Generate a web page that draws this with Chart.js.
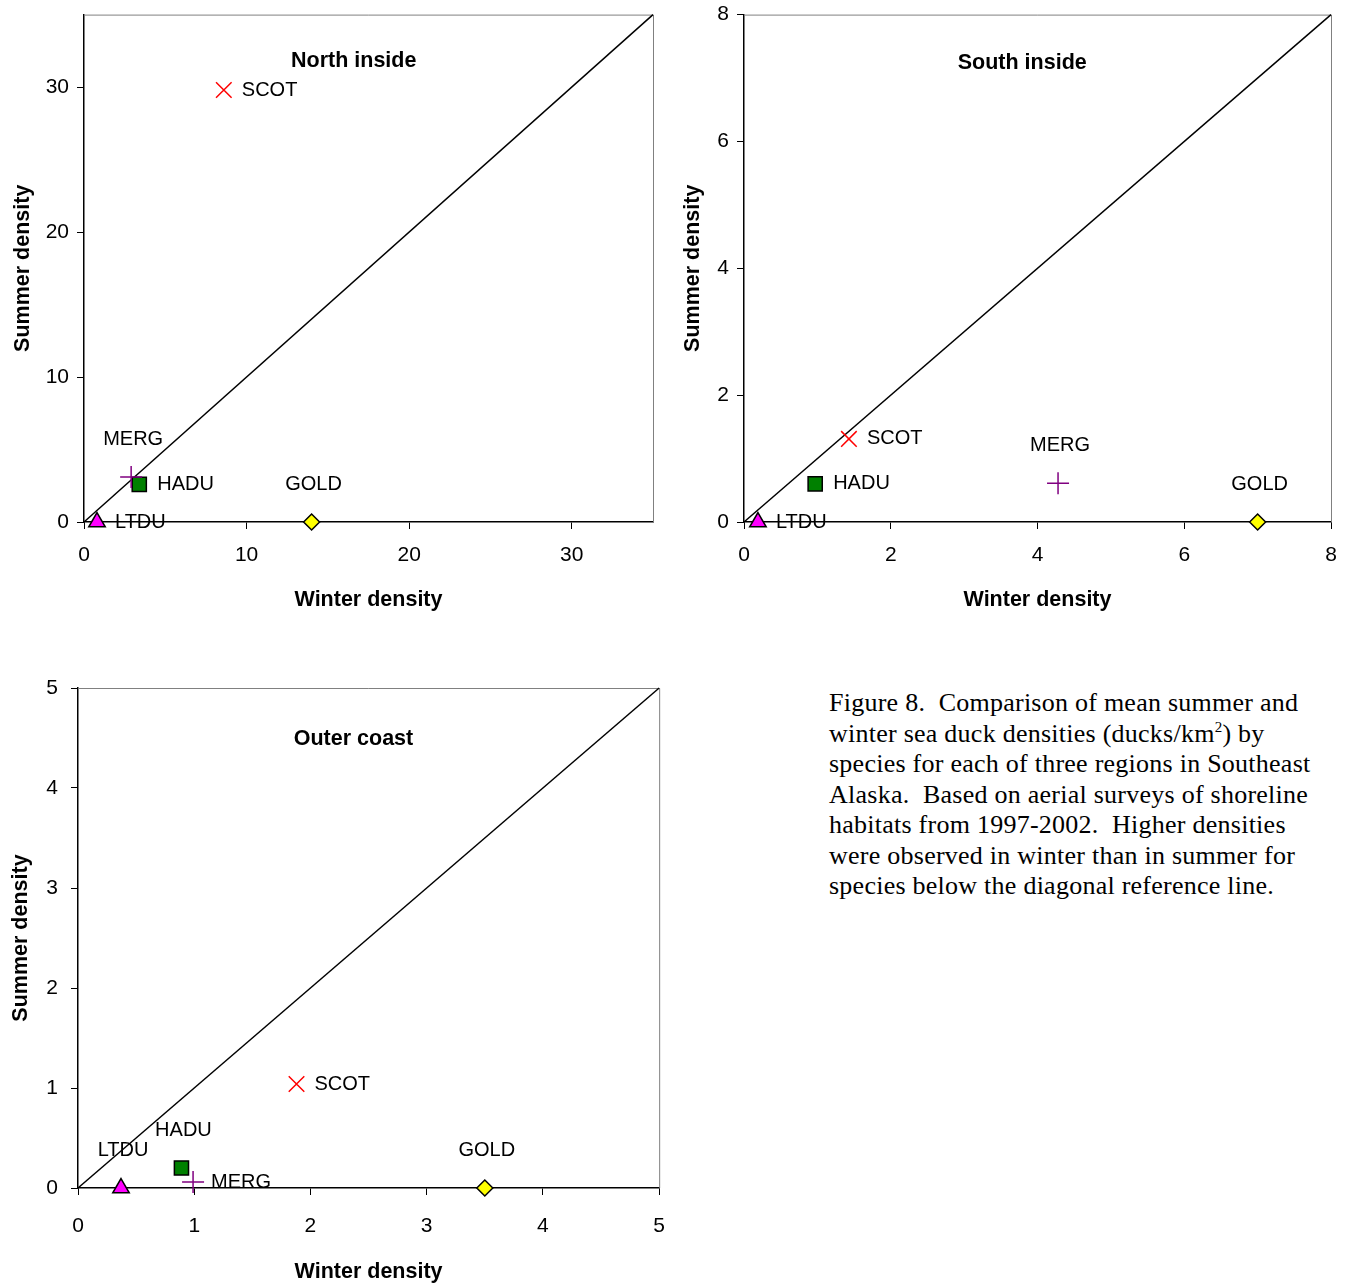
<!DOCTYPE html>
<html>
<head>
<meta charset="utf-8">
<script src="https://cdn.jsdelivr.net/npm/chart.js@4.4.0/dist/chart.umd.min.js"></script>
<style>
  body { margin: 0; background: #fff; width: 1346px; height: 1287px; position: relative; overflow: hidden; }
  canvas { position: absolute; }
  #caption {
    position: absolute; left: 829px; top: 688px; width: 510px;
    font-family: "Liberation Serif", "Times New Roman", serif; font-size: 26px; letter-spacing: 0.25px;
    line-height: 30.5px; color: #000; white-space: nowrap;
  }
  #caption sup { font-size: 15px; line-height: 0; vertical-align: 10px; }
</style>
</head>
<body>
<canvas id="north" width="680" height="626" style="left:0;top:-6px"></canvas>
<canvas id="south" width="671" height="626" style="left:680px;top:-6px"></canvas>
<canvas id="outer" width="684" height="647" style="left:0;top:640px"></canvas>
<div id="caption">
Figure 8.&nbsp; Comparison of mean summer and<br>
winter sea duck densities (ducks/km<sup>2</sup>) by<br>
species for each of three regions in Southeast<br>
Alaska.&nbsp; Based on aerial surveys of shoreline<br>
habitats from 1997-2002.&nbsp; Higher densities<br>
were observed in winter than in summer for<br>
species below the diagonal reference line.
</div>
<script>
// data (ducks/km2)
const species = ["SCOT", "MERG", "HADU", "GOLD", "LTDU"];

const northWinter = [8.6, 2.9, 3.4, 14.0, 0.8];
const northSummer = [29.8, 3.1, 2.6, 0, 0];
const northTicks = [0, 10, 20, 30];
const northMax = 35;

const southWinter = [1.43, 4.28, 0.97, 7.0, 0.19];
const southSummer = [1.31, 0.61, 0.6, 0, 0];
const southTicks = [0, 2, 4, 6, 8];
const southMax = 8;

const outerWinter = [1.88, 0.99, 0.89, 3.5, 0.37];
const outerSummer = [1.04, 0.06, 0.2, 0, 0];
const outerTicks = [0, 1, 2, 3, 4, 5];
const outerMax = 5;

// marker look per species
const markers = {
  SCOT: { pointStyle: "crossRot", radius: 11, bg: "#ff0000", border: "#ff0000" },
  MERG: { pointStyle: "cross", radius: 11, bg: "#800080", border: "#800080" },
  HADU: { pointStyle: "rect", radius: 10, bg: "#008000", border: "#000000" },
  GOLD: { pointStyle: "rectRot", radius: 8, bg: "#ffff00", border: "#000000" },
  LTDU: { pointStyle: "triangle", radius: 9.5, bg: "#ff00ff", border: "#000000" }
};

const labelFont = '20px "Liberation Sans", Arial, sans-serif';
const boldFont = { family: '"Liberation Sans", Arial, sans-serif', size: 21.5, weight: "bold" };
const tickFont = { family: '"Liberation Sans", Arial, sans-serif', size: 21 };

// frame + region name + point labels
const extras = {
  id: "extras",
  beforeDatasetsDraw(chart) {
    const { ctx, chartArea: a } = chart;
    ctx.save();
    ctx.strokeStyle = "#808080";
    ctx.lineWidth = 1;
    ctx.beginPath();
    ctx.moveTo(a.left, a.top + 0.5);
    ctx.lineTo(a.right + 0.5, a.top + 0.5);
    ctx.lineTo(a.right + 0.5, a.bottom);
    ctx.stroke();
    ctx.restore();
  },
  afterDatasetsDraw(chart) {
    const { ctx, chartArea: a } = chart;
    const opts = chart.options.plugins.extras;
    ctx.save();
    ctx.fillStyle = "#000";
    ctx.font = "bold 21.5px \"Liberation Sans\", Arial, sans-serif";
    ctx.textAlign = "center";
    ctx.textBaseline = "middle";
    ctx.fillText(opts.region, a.left + (a.right - a.left) * 0.474, a.top + opts.regionDrop);

    ctx.font = labelFont;
    chart.data.datasets.forEach((ds, i) => {
      if (!ds.speciesName) return;
      const pt = chart.getDatasetMeta(i).data[0];
      const where = opts.placement[ds.speciesName];
      if (where === "above") {
        ctx.textAlign = "center";
        ctx.fillText(ds.speciesName, pt.x + 2, pt.y - 38);
      } else {
        ctx.textAlign = "left";
        ctx.fillText(ds.speciesName, pt.x + 18, pt.y);
      }
    });
    ctx.restore();
  }
};

function makeChart(id, winter, summer, ticks, max, region, placement, box) {
  const datasets = species.map((name, i) => {
    const m = markers[name];
    return {
      speciesName: name,
      data: [{ x: winter[i], y: summer[i] }],
      pointStyle: m.pointStyle,
      pointRadius: m.radius,
      pointBackgroundColor: m.bg,
      pointBorderColor: m.border,
      pointBorderWidth: 1.5,
      clip: false
    };
  });
  // 1:1 reference line
  datasets.push({
    data: [{ x: 0, y: 0 }, { x: max, y: max }],
    showLine: true,
    borderColor: "#000",
    borderWidth: 1.5,
    pointRadius: 0,
    clip: false
  });

  const axis = (title, titlePad, size, tickPad, isY) => ({
    type: "linear",
    min: 0,
    max: max,
    afterBuildTicks: s => { s.ticks = ticks.map(v => ({ value: v })); },
    afterFit: s => { if (isY) s.width = size; else s.height = size; },
    grid: { drawOnChartArea: false, drawTicks: true, tickLength: 7, color: "#000" },
    border: { display: true, color: "#000", width: 1.5 },
    ticks: { font: tickFont, color: "#000", padding: tickPad },
    title: { display: true, text: title, font: boldFont, color: "#000", padding: { top: titlePad, bottom: titlePad } }
  });

  return new Chart(document.getElementById(id), {
    type: "scatter",
    data: { datasets },
    plugins: [extras],
    options: {
      responsive: false,
      animation: false,
      events: [],
      layout: { padding: box.padding },
      plugins: {
        legend: { display: false },
        tooltip: { enabled: false },
        extras: { region, placement, regionDrop: box.regionDrop }
      },
      scales: {
        x: axis("Winter density", box.xTitlePad, box.xHeight, box.xTickPad, false),
        y: axis("Summer density", box.yTitlePad, box.yWidth, box.yTickPad, true)
      }
    }
  });
}

makeChart("north", northWinter, northSummer, northTicks, northMax, "North inside",
  { SCOT: "right", MERG: "above", HADU: "right", GOLD: "above", LTDU: "right" },
  { padding: { top: 20, right: 27, left: 0, bottom: 0 }, yWidth: 84, xHeight: 98,
    yTitlePad: 10, xTitlePad: 7, xTickPad: 14, yTickPad: 8, regionDrop: 46 });

makeChart("south", southWinter, southSummer, southTicks, southMax, "South inside",
  { SCOT: "right", MERG: "above", HADU: "right", GOLD: "above", LTDU: "right" },
  { padding: { top: 20, right: 20, left: 0, bottom: 0 }, yWidth: 64, xHeight: 98,
    yTitlePad: 0, xTitlePad: 7, xTickPad: 14, yTickPad: 8, regionDrop: 48 });

makeChart("outer", outerWinter, outerSummer, outerTicks, outerMax, "Outer coast",
  { SCOT: "right", MERG: "right", HADU: "above", GOLD: "above", LTDU: "above" },
  { padding: { top: 48, right: 21, left: 0, bottom: 0 }, yWidth: 78, xHeight: 99,
    yTitlePad: 8, xTitlePad: 2, xTickPad: 19, yTickPad: 13, regionDrop: 51 });
</script>
</body>
</html>
